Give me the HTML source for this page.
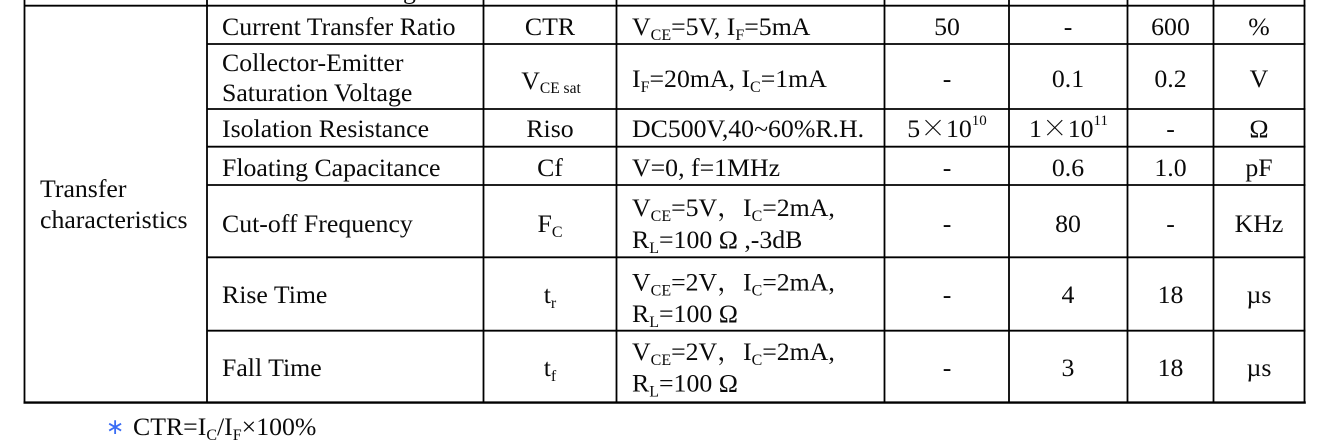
<!DOCTYPE html>
<html>
<head>
<meta charset="utf-8">
<style>
  html,body{margin:0;padding:0;background:#fff;}
  body{width:1329px;height:447px;overflow:hidden;}
  svg{display:block;}
  text{fill:#0a0a0a;}
</style>
</head>
<body>
<svg width="1329" height="447" viewBox="0 0 1329 447" xmlns="http://www.w3.org/2000/svg"
     font-family="'Liberation Serif','Noto Serif CJK SC',serif" font-size="25.8">
  <!-- grid lines -->
  <g stroke="#000" stroke-width="1.8" fill="none">
    <line x1="24.5" y1="0" x2="24.5" y2="403"/>
    <line x1="207" y1="0" x2="207" y2="403"/>
    <line x1="483.5" y1="0" x2="483.5" y2="403"/>
    <line x1="616.5" y1="0" x2="616.5" y2="403"/>
    <line x1="884.5" y1="0" x2="884.5" y2="403"/>
    <line x1="1009" y1="0" x2="1009" y2="403"/>
    <line x1="1127.5" y1="0" x2="1127.5" y2="403"/>
    <line x1="1213.5" y1="0" x2="1213.5" y2="403"/>
    <line x1="1304.5" y1="0" x2="1304.5" y2="403"/>

    <line x1="24" y1="5.7" x2="1305.5" y2="5.7"/>
    <line x1="207" y1="44" x2="1305.5" y2="44"/>
    <line x1="207" y1="109" x2="1305.5" y2="109"/>
    <line x1="207" y1="146.7" x2="1305.5" y2="146.7"/>
    <line x1="207" y1="185" x2="1305.5" y2="185"/>
    <line x1="207" y1="257.3" x2="1305.5" y2="257.3"/>
    <line x1="207" y1="330.7" x2="1305.5" y2="330.7"/>
  </g>
  <line x1="23.5" y1="402.6" x2="1305.8" y2="402.6" stroke="#000" stroke-width="2.4"/>

  <!-- cut-off descender from previous row -->
  <text x="403" y="-1.5">g</text>

  <!-- category -->
  <text x="40" y="197">Transfer</text>
  <text x="40" y="228">characteristics</text>

  <!-- parameter column -->
  <text x="222" y="35">Current Transfer Ratio</text>
  <text x="222" y="71">Collector-Emitter</text>
  <text x="222" y="101">Saturation Voltage</text>
  <text x="222" y="137">Isolation Resistance</text>
  <text x="222" y="176">Floating Capacitance</text>
  <text x="222" y="232">Cut-off Frequency</text>
  <text x="222" y="303">Rise Time</text>
  <text x="222" y="376">Fall Time</text>

  <!-- symbol column -->
  <g text-anchor="middle">
    <text x="550" y="35">CTR</text>
    <text x="551" y="89">V<tspan dy="4" font-size="15.5">CE sat</tspan></text>
    <text x="550" y="137">Riso</text>
    <text x="550" y="176">Cf</text>
    <text x="550" y="232">F<tspan dy="5" font-size="16">C</tspan></text>
    <text x="550" y="303">t<tspan dy="5" font-size="16">r</tspan></text>
    <text x="550" y="376">t<tspan dy="5" font-size="16">f</tspan></text>
  </g>

  <!-- conditions column -->
  <text x="632" y="35">V<tspan dy="5" font-size="16">CE</tspan><tspan dy="-5">=5V, I</tspan><tspan dy="5" font-size="16">F</tspan><tspan dy="-5">=5mA</tspan></text>
  <text x="632" y="87">I<tspan dy="5" font-size="16">F</tspan><tspan dy="-5">=20mA, I</tspan><tspan dy="5" font-size="16">C</tspan><tspan dy="-5">=1mA</tspan></text>
  <text x="632" y="137">DC500V,40~60%R.H.</text>
  <text x="632" y="176">V=0, f=1MHz</text>
  <text x="632" y="216">V<tspan dy="5" font-size="16">CE</tspan><tspan dy="-5">=5V，I</tspan><tspan dy="5" font-size="16">C</tspan><tspan dy="-5">=2mA,</tspan></text>
  <text x="632" y="248">R<tspan dy="5" font-size="16">L</tspan><tspan dy="-5">=100 Ω ,-3dB</tspan></text>
  <text x="632" y="290.5">V<tspan dy="5" font-size="16">CE</tspan><tspan dy="-5">=2V，I</tspan><tspan dy="5" font-size="16">C</tspan><tspan dy="-5">=2mA,</tspan></text>
  <text x="632" y="322">R<tspan dy="5" font-size="16">L</tspan><tspan dy="-5">=100 Ω</tspan></text>
  <text x="632" y="360">V<tspan dy="5" font-size="16">CE</tspan><tspan dy="-5">=2V，I</tspan><tspan dy="5" font-size="16">C</tspan><tspan dy="-5">=2mA,</tspan></text>
  <text x="632" y="391.5">R<tspan dy="5" font-size="16">L</tspan><tspan dy="-5">=100 Ω</tspan></text>

  <!-- value columns -->
  <g text-anchor="middle">
    <!-- row 1 -->
    <text x="947" y="35">50</text>
    <text x="1068" y="35">-</text>
    <text x="1170.5" y="35">600</text>
    <text x="1259" y="35">%</text>
    <!-- row 2 -->
    <text x="947" y="87">-</text>
    <text x="1068" y="87">0.1</text>
    <text x="1170.5" y="87">0.2</text>
    <text x="1259" y="87">V</text>
    <!-- row 3 -->
    <text x="947" y="137">5<tspan font-family="'Noto Serif CJK SC',serif">×</tspan>10<tspan dy="-12" font-size="15">10</tspan></text>
    <text x="1068.5" y="137">1<tspan font-family="'Noto Serif CJK SC',serif">×</tspan>10<tspan dy="-12" font-size="15">11</tspan></text>
    <text x="1170.5" y="137">-</text>
    <text x="1259" y="137">Ω</text>
    <!-- row 4 -->
    <text x="947" y="176">-</text>
    <text x="1068" y="176">0.6</text>
    <text x="1170.5" y="176">1.0</text>
    <text x="1259" y="176">pF</text>
    <!-- row 5 -->
    <text x="947" y="232">-</text>
    <text x="1068" y="232">80</text>
    <text x="1170.5" y="232">-</text>
    <text x="1259" y="232">KHz</text>
    <!-- row 6 -->
    <text x="947" y="303">-</text>
    <text x="1068" y="303">4</text>
    <text x="1170.5" y="303">18</text>
    <text x="1259" y="303">µs</text>
    <!-- row 7 -->
    <text x="947" y="376">-</text>
    <text x="1068" y="376">3</text>
    <text x="1170.5" y="376">18</text>
    <text x="1259" y="376">µs</text>
  </g>

  <!-- footnote -->
  <text x="106" y="434" font-family="'DejaVu Sans',sans-serif" font-size="22" style="fill:#3b6df5">∗</text>
  <text x="133" y="435">CTR=I<tspan dy="5" font-size="16">C</tspan><tspan dy="-5">/I</tspan><tspan dy="5" font-size="16">F</tspan><tspan dy="-5">×100%</tspan></text>
</svg>
</body>
</html>
